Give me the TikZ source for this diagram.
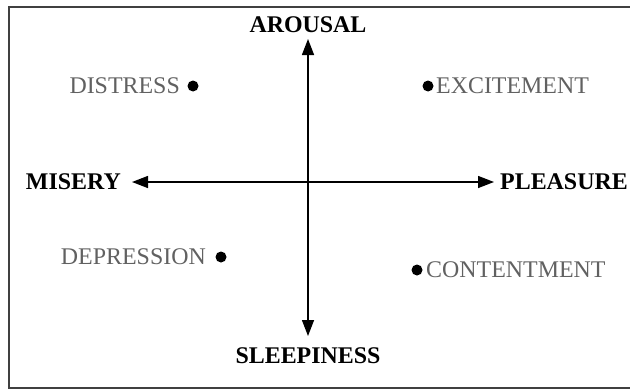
\documentclass[tikz,border=0pt]{standalone}
\usepackage{fontspec}
\setmainfont{Liberation Serif}
\usetikzlibrary{arrows.meta}
\begin{document}
\begin{tikzpicture}[x=1bp, y=1bp,
  every node/.style={font=\fontsize{24}{27}\selectfont, inner sep=0pt},
  axislabel/.style={font=\fontsize{24}{27}\selectfont\bfseries},
  mood/.style={text=black!62},
  dot/.style={circle, fill=black, minimum size=11bp, inner sep=0pt},
  axis/.style={line width=1.4bp, {Triangle[length=16bp,width=12bp]}-{Triangle[length=16bp,width=12bp]}}]
  \clip (0,0) rectangle (630,390);
  \draw[line width=1.5bp, black!75] (9,2) rectangle (640,383);
  % axes
  \coordinate (top) at (308,351);
  \coordinate (bottom) at (308,54);
  \coordinate (left) at (132,208);
  \coordinate (right) at (494,208);
  \draw[axis] (top) -- (bottom);
  \draw[axis] (left) -- (right);
  \node[axislabel] (arousal) at (308,365) {AROUSAL};
  \node[axislabel] (sleepiness) at (308,34) {SLEEPINESS};
  \node[axislabel, anchor=east] (misery) at (121,208) {MISERY};
  \node[axislabel, anchor=west] (pleasure) at (500,208) {PLEASURE};
  % moods
  \node[dot] (distressdot) at (193,304) {};
  \node[mood, anchor=east] (distress) at (180,304) {DISTRESS};
  \node[dot] (excitedot) at (428,304) {};
  \node[mood, anchor=west] (excitement) at (436,304) {EXCITEMENT};
  \node[dot] (depressdot) at (221,133) {};
  \node[mood, anchor=east] (depression) at (206,133) {DEPRESSION};
  \node[dot] (contentdot) at (417,120) {};
  \node[mood, anchor=west] (contentment) at (426,120) {CONTENTMENT};
\end{tikzpicture}
\end{document}
